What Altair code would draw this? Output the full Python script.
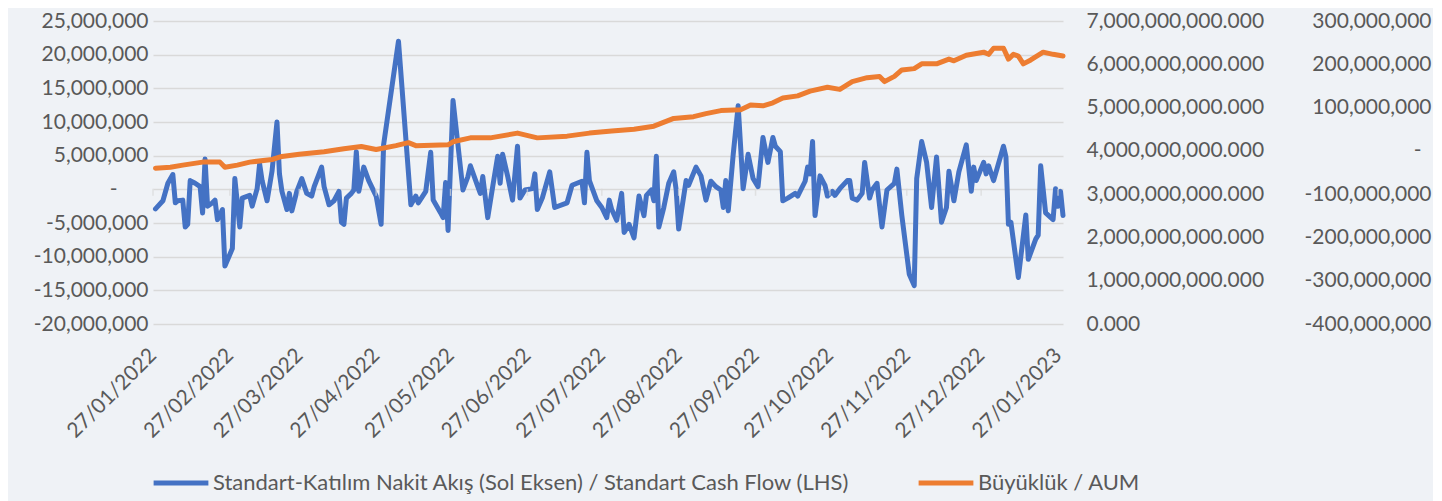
import altair as alt
import pandas as pd

START = "2022-01-27"

# Standart-Katılım cash flow: day offset from START, value in millions
flow_day = [1, 4, 6, 8, 9, 10, 12, 13, 14, 15, 17, 19, 20, 21, 22, 24, 25, 26, 28, 29,
            32, 33, 35, 36, 39, 40, 42, 43, 44, 46, 48, 50, 51, 52, 54, 55, 56, 58, 60, 62,
            64, 65, 68, 69, 71, 73, 75, 76, 77, 78, 80, 81, 82, 83, 85, 87, 90, 92, 93, 99,
            104, 106, 107, 110, 112, 113, 116, 117, 118, 119, 121, 125, 127, 128, 131, 132, 133, 135, 137, 139,
            140, 141, 143, 145, 147, 148, 150, 153, 154, 155, 157, 160, 162, 167, 169, 173, 174, 175, 176, 179,
            181, 183, 184, 185, 187, 189, 190, 192, 194, 196, 198, 199, 201, 202, 203, 204, 206, 208, 210, 211,
            212, 215, 216, 219, 221, 223, 225, 227, 229, 230, 231, 232, 234, 236, 238, 240, 242, 244, 246, 248,
            250, 251, 253, 254, 256, 259, 260, 263, 264, 265, 266, 267, 269, 271, 272, 274, 275, 277, 280, 281,
            282, 284, 286, 287, 289, 290, 292, 294, 296, 299, 300, 302, 305, 307, 308, 310, 312, 314, 316, 318,
            320, 321, 323, 325, 328, 330, 331, 332, 335, 336, 337, 339, 343, 344, 345, 346, 349, 352, 353, 356,
            357, 358, 360, 363, 364, 365, 366, 367]
flow_value = [-2.9, -1.7, 0.9, 2.2, -2.0, -1.7, -1.6, -5.6, -5.2, 1.3, 0.9, 0.4, -3.5, 4.5, -2.5, -2.0, -1.6, -4.5, -3.0, -11.4,
              -8.8, 1.6, -5.6, -1.3, -0.9, -2.5, 0.1, 3.8, 1.3, -1.7, 2.7, 10.0, 2.3, -0.3, -3.0, -0.6, -3.2, -0.3, 1.6, -0.6,
              -1.0, 0.4, 3.3, 0.4, -2.3, -1.7, -0.3, -4.9, -5.2, -1.3, -0.6, -0.1, 5.6, -0.3, 3.3, 1.3, -1.0, -5.2, 6.6, 22.0,
              -2.3, -1.0, -2.0, -0.3, 5.5, -1.6, -3.5, -4.2, 1.0, -6.1, 13.2, -0.1, 1.9, 3.5, 0.4, -0.6, 1.9, -4.2, 0.4, 4.9,
              0.9, 5.2, 2.0, -1.6, 6.4, -1.3, -0.1, 0.1, 2.3, -3.0, -1.3, 2.6, -2.7, -2.0, 0.6, 1.2, -2.0, 5.5, 1.3, -1.7,
              -2.7, -4.2, -1.6, -3.0, -4.6, -0.6, -6.4, -5.2, -7.2, -1.0, -3.9, -0.9, -0.1, -1.7, 4.9, -5.6, -2.7, 0.9, 2.6, -0.1,
              -5.9, 1.3, 0.6, 3.3, 2.0, -1.6, 1.2, 0.4, -0.1, -2.7, 1.3, -3.2, 5.2, 12.4, 0.1, 5.2, 1.6, 0.4, 7.7, 4.0,
              7.7, 6.4, 5.6, -1.7, -1.3, -0.6, -1.0, 1.2, 3.3, 2.3, 7.1, -3.9, 2.0, 0.6, -1.0, -0.3, -0.9, 0.1, 1.3, 1.3,
              -1.3, -1.6, -0.6, 4.0, -1.3, -0.1, 0.9, -5.6, -0.1, 0.9, 3.0, -3.9, -12.6, -14.3, 1.6, 7.1, 4.0, -2.7, 4.8, -4.9,
              -2.7, 2.7, -1.7, 2.6, 6.6, -0.3, 3.3, 1.3, 4.0, 2.3, 3.5, 1.3, 6.4, 4.8, -5.2, -4.9, -13.1, -3.8, -10.4, -7.4,
              -6.8, 3.5, -3.5, -4.5, 0.1, -2.5, -0.3, -3.9]

# AUM: day offset from START, value in billions
aum_day = [1, 7, 12, 20, 27, 29, 34, 39, 48, 52, 59, 69, 77, 84, 90, 98, 103, 106, 119, 121,
           128, 136, 147, 155, 167, 176, 185, 194, 202, 210, 218, 223, 229, 237, 241, 246, 250, 254, 260, 265,
           272, 277, 282, 288, 293, 295, 299, 302, 307, 310, 316, 321, 323, 328, 335, 337, 339, 343, 345, 347,
           349, 351, 354, 359, 363, 367]
aum_value = [3.60, 3.62, 3.67, 3.74, 3.74, 3.62, 3.67, 3.74, 3.80, 3.87, 3.92, 3.98, 4.05, 4.10, 4.03, 4.12, 4.19, 4.12, 4.14, 4.21,
             4.30, 4.30, 4.41, 4.30, 4.34, 4.41, 4.46, 4.50, 4.57, 4.75, 4.79, 4.86, 4.93, 4.95, 5.06, 5.04, 5.11, 5.22, 5.27, 5.38,
             5.47, 5.42, 5.60, 5.69, 5.72, 5.60, 5.72, 5.87, 5.90, 6.01, 6.01, 6.12, 6.08, 6.21, 6.28, 6.23, 6.37, 6.37, 6.12, 6.23,
             6.19, 6.01, 6.10, 6.28, 6.23, 6.19]

tick_months = [(2022, m) for m in range(1, 13)] + [(2023, 1)]
left_ticks = [-20e6, -15e6, -10e6, -5e6, 0, 5e6, 10e6, 15e6, 20e6, 25e6]
right_ticks = [0, 1e9, 2e9, 3e9, 4e9, 5e9, 6e9, 7e9]
third_ticks = [-4e8, -3e8, -2e8, -1e8, 0, 1e8, 2e8, 3e8]

S_FLOW = "Standart-Katılım Nakit Akış (Sol Eksen) / Standart Cash Flow (LHS)"
S_AUM = "Büyüklük / AUM"

start = pd.Timestamp(START)
flow_df = pd.DataFrame({
    "date": start + pd.to_timedelta(flow_day, unit="D"),
    "value": [v * 1e6 for v in flow_value],
    "series": S_FLOW,
})
aum_df = pd.DataFrame({
    "date": start + pd.to_timedelta(aum_day, unit="D"),
    "value": [v * 1e9 for v in aum_value],
    "series": S_AUM,
})
third_df = pd.DataFrame({"v": third_ticks})
tick_df = pd.DataFrame({
    "date": [pd.Timestamp(year=y, month=m, day=27) for y, m in tick_months],
    "value": 0.0,
})

FONT = "Lato"
TXT = "#595959"
FS = 21
GRID = "#d9d9d9"

x_scale = alt.Scale(domain=[alt.DateTime(year=2022, month=1, date=27),
                            alt.DateTime(year=2023, month=1, date=29)])

x_enc = alt.X(
    "date:T",
    scale=x_scale,
    axis=alt.Axis(
        values=[alt.DateTime(year=y, month=m, date=27) for y, m in tick_months],
        format="%d/%m/%Y", labelAngle=-45, labelAlign="right", labelBaseline="middle",
        labelPadding=28, labelOverlap=False, ticks=False, domain=False, grid=False, title=None,
        labelFont=FONT, labelFontSize=FS, labelColor=TXT,
    ),
)

color_enc = alt.Color(
    "series:N",
    scale=alt.Scale(domain=[S_FLOW, S_AUM], range=["#4472C4", "#ED7D31"]),
    legend=alt.Legend(
        title=None, orient="none", legendX=-2, legendY=432, direction="horizontal",
        symbolType="stroke", symbolSize=3000, symbolStrokeWidth=5, labelFont=FONT,
        labelFontSize=22, labelColor=TXT, labelLimit=1000, columnPadding=58, labelOffset=2,
    ),
)

num_expr = "datum.value == 0 ? '-' : replace(format(datum.value, ',.0f'), '\u2212', '-')"

left_scale = alt.Scale(domain=[-20e6, 25e6], nice=False)

flow_line = alt.Chart(flow_df).mark_line(strokeWidth=5, strokeJoin="round", strokeCap="round").encode(
    x=x_enc,
    y=alt.Y("value:Q", scale=left_scale,
            axis=alt.Axis(values=left_ticks, labelExpr=num_expr, grid=True, gridColor=GRID,
                          gridWidth=1.5, ticks=False, domain=False, title=None,
                          labelPadding={"condition": {"test": "datum.value === 0", "value": 36}, "value": 5},
                          labelFont=FONT, labelFontSize=FS, labelColor=TXT)),
    color=color_enc,
)

zero_ticks = alt.Chart(tick_df).mark_tick(
    orient="vertical", size=7, thickness=1.5, color=GRID, yOffset=3
).encode(
    x=alt.X("date:T", scale=x_scale),
    y=alt.Y("value:Q", scale=left_scale, axis=None),
)

aum_line = alt.Chart(aum_df).mark_line(strokeWidth=5, strokeJoin="round", strokeCap="round").encode(
    x=x_enc,
    y=alt.Y("value:Q", scale=alt.Scale(domain=[0, 7e9], nice=False),
            axis=alt.Axis(values=right_ticks, format=",.3f", orient="right", grid=False, ticks=False,
                          domain=False, title=None, labelPadding=23,
                          labelFont=FONT, labelFontSize=FS, labelColor=TXT)),
    color=color_enc,
)

third_axis = alt.Chart(third_df).mark_rule(opacity=0).encode(
    y=alt.Y("v:Q", scale=alt.Scale(domain=[-4e8, 3e8], nice=False),
            axis=alt.Axis(values=third_ticks, labelExpr=num_expr, orient="right", offset=356,
                          labelAlign="right", grid=False, ticks=False, domain=False, title=None,
                          labelPadding={"condition": {"test": "datum.value === 0", "value": 2}, "value": 12},
                          labelFont=FONT, labelFontSize=FS, labelColor=TXT)),
)

chart = alt.layer(flow_line, aum_line, third_axis, zero_ticks).resolve_scale(y="independent").properties(
    width=910, height=303,
    background="#eff2f6",
    autosize=alt.AutoSizeParams(type="none"),
    padding={"left": 145, "top": 13, "right": 370, "bottom": 177},
).configure_view(stroke=None)

chart.save("out.html", embed_options={"renderer": "svg", "actions": False})
